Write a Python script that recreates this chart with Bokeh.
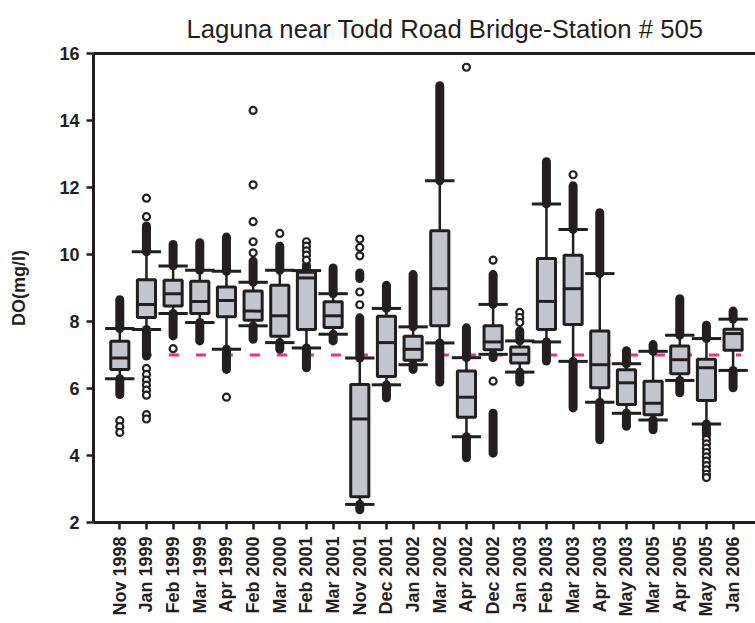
from math import pi
from bokeh.plotting import figure
from bokeh.models import FixedTicker, LinearAxis, Range1d
from bokeh.embed import file_html
from bokeh.resources import INLINE

categories = ["Nov 1998", "Jan 1999", "Feb 1999", "Mar 1999", "Apr 1999", "Feb 2000",
              "Mar 2000", "Feb 2001", "Mar 2001", "Nov 2001", "Dec 2001", "Jan 2002",
              "Mar 2002", "Apr 2002", "Dec 2002", "Jan 2003", "Feb 2003", "Mar 2003",
              "Apr 2003", "May 2003", "Mar 2005", "Apr 2005", "May 2005", "Jan 2006"]

lower_whisker = [6.29, 7.76, 8.24, 7.97, 7.17, 7.87, 7.37, 7.21, 7.62, 2.54, 6.11, 6.71,
                 7.36, 4.56, 7.02, 6.49, 7.39, 6.81, 5.59, 5.26, 5.06, 6.24, 4.94, 6.54]
q1 = [6.57, 8.12, 8.46, 8.24, 8.14, 8.04, 7.56, 7.76, 7.82, 2.77, 6.36, 6.84,
      7.87, 5.14, 7.16, 6.76, 7.76, 7.91, 6.02, 5.52, 5.22, 6.44, 5.64, 7.14]
median = [6.91, 8.51, 8.83, 8.60, 8.63, 8.31, 8.17, 9.30, 8.17, 5.09, 7.37, 7.17,
          8.98, 5.74, 7.39, 7.02, 8.60, 8.98, 6.71, 6.17, 5.56, 6.86, 6.62, 7.64]
q3 = [7.41, 9.25, 9.23, 9.20, 9.03, 8.91, 9.08, 9.47, 8.59, 6.12, 8.16, 7.56,
      10.71, 6.52, 7.87, 7.24, 9.88, 9.98, 7.72, 6.56, 6.22, 7.27, 6.87, 7.77]
upper_whisker = [7.79, 10.08, 9.66, 9.53, 9.50, 9.17, 9.53, 9.52, 8.83, 6.91, 8.39, 7.84,
                 12.20, 6.92, 8.51, 7.42, 11.51, 10.75, 9.43, 6.74, 7.11, 7.59, 7.49, 8.07]

# dense runs of overlapping outliers (category index, from, to)
dense_cat = [0, 0, 1, 1, 2, 2, 3, 3, 4, 4, 5, 5, 6, 6, 7, 7, 8, 8, 9, 9, 9,
             10, 10, 11, 11, 12, 12, 13, 13, 14, 14, 14, 15, 15, 16, 16, 17, 17,
             18, 18, 19, 19, 20, 20, 21, 21, 22, 22, 23, 23]
dense_from = [7.79, 5.82, 10.08, 6.97, 9.66, 7.57, 9.53, 7.42, 9.50, 6.57, 9.17, 7.47,
              9.53, 7.17, 9.50, 6.62, 8.83, 7.42, 6.91, 9.28, 2.38, 8.39, 5.72, 7.84, 6.57,
              12.20, 6.19, 6.92, 3.93, 8.51, 6.92, 4.07, 7.42, 6.19, 11.51, 6.82, 10.75, 5.42,
              9.43, 4.47, 6.74, 4.87, 7.11, 4.77, 7.59, 5.87, 7.49, 4.60, 8.07, 6.02]
dense_to = [8.65, 6.29, 10.85, 7.76, 10.30, 8.24, 10.35, 7.97, 10.52, 7.17, 9.80, 7.87,
            10.25, 7.37, 9.68, 7.21, 9.60, 7.62, 8.11, 9.45, 2.54, 9.08, 6.11, 9.40, 6.71,
            15.04, 7.36, 7.81, 4.56, 9.40, 7.02, 5.26, 7.72, 6.49, 12.77, 7.39, 12.05, 6.81,
            11.25, 5.59, 7.13, 5.26, 7.31, 5.06, 8.68, 6.24, 7.89, 4.94, 8.31, 6.54]

# separate outlier circles
outlier_cat = [0, 0, 0, 1, 1, 1, 1, 1, 1, 1, 1, 1, 1, 2, 4, 5, 5, 5, 5, 5, 6,
               7, 7, 7, 7, 7, 9, 9, 9, 9, 9, 13, 14, 14, 15, 15, 15, 17,
               22, 22, 22, 22, 22, 22, 22, 22, 22, 22]
outlier_val = [5.04, 4.86, 4.69, 11.68, 11.13, 6.60, 6.42, 6.25, 6.10, 5.95, 5.80, 5.22, 5.09,
               7.19, 5.74, 14.30, 12.08, 10.98, 10.38, 10.05, 10.63,
               10.38, 10.25, 10.11, 9.98, 9.83, 10.46, 10.21, 9.96, 8.88, 8.50,
               15.59, 9.83, 6.22, 8.27, 8.12, 7.97, 12.38,
               4.48, 4.35, 4.22, 4.09, 3.96, 3.83, 3.70, 3.57, 3.44, 3.34]

standard_level = [7.0, 7.0]
standard_span = [0.83, 23.3]

title_text = "Laguna near Todd Road Bridge-Station # 505"
y_label = "DO(mg/l)"
y_ticks = [2, 4, 6, 8, 10, 12, 14, 16]

DARK = "#231f20"
BOXFILL = "#c3c6ce"
PINK = "#ec2f8e"
FONT = "Liberation Sans"

xs = list(range(len(categories)))
half_box = 0.34
half_cap = 0.55

p = figure(width=755, height=621, output_backend="svg", toolbar_location=None,
           x_range=Range1d(-0.986, 23.84), y_range=Range1d(2, 16),
           min_border_left=93, min_border_right=0, min_border_top=53, min_border_bottom=99)
p.outline_line_color = None
p.grid.visible = False
p.background_fill_color = "white"

# reference line
p.line(standard_span, standard_level, line_color=PINK, line_width=3, line_dash="10 17")

# whiskers
p.segment(x0=xs, y0=lower_whisker, x1=xs, y1=q1, line_color=DARK, line_width=2.5)
p.segment(x0=xs, y0=q3, x1=xs, y1=upper_whisker, line_color=DARK, line_width=2.5)

# dense outliers
p.segment(x0=dense_cat, y0=dense_from, x1=dense_cat, y1=dense_to, line_color=DARK,
          line_width=9, line_cap="round")

# boxes
p.vbar(x=xs, width=2 * half_box, bottom=q1, top=q3, fill_color=BOXFILL,
       line_color=DARK, line_width=3)
p.segment(x0=[x - half_box for x in xs], y0=median, x1=[x + half_box for x in xs], y1=median,
          line_color=DARK, line_width=3)

# caps
p.segment(x0=[x - half_cap for x in xs], y0=lower_whisker, x1=[x + half_cap for x in xs],
          y1=lower_whisker, line_color=DARK, line_width=3)
p.segment(x0=[x - half_cap for x in xs], y0=upper_whisker, x1=[x + half_cap for x in xs],
          y1=upper_whisker, line_color=DARK, line_width=3)

# outliers
p.scatter(outlier_cat, outlier_val, size=7, marker="circle", fill_color="white",
          line_color=DARK, line_width=2.2)

# axes
p.xaxis.ticker = FixedTicker(ticks=xs)
p.xaxis.major_label_overrides = {i: c for i, c in enumerate(categories)}
p.xaxis.major_label_orientation = pi / 2
p.yaxis.ticker = FixedTicker(ticks=y_ticks)
for ax in (p.xaxis, p.yaxis):
    ax.axis_line_color = DARK
    ax.axis_line_width = 3
    ax.major_tick_line_color = DARK
    ax.major_tick_line_width = 2.5
    ax.major_tick_in = 0
    ax.major_tick_out = 7
    ax.minor_tick_line_color = None
    ax.major_label_text_font = FONT
    ax.major_label_text_font_style = "bold"
    ax.major_label_text_font_size = "18px"
    ax.major_label_text_color = DARK
    ax.major_label_standoff = 7
p.yaxis.axis_label = y_label
p.yaxis.axis_label_text_font = FONT
p.yaxis.axis_label_text_font_style = "bold"
p.yaxis.axis_label_text_font_size = "18px"
p.yaxis.axis_label_text_color = DARK
p.yaxis.axis_label_standoff = 27

top = LinearAxis(ticker=FixedTicker(ticks=[]), axis_line_color=DARK, axis_line_width=3,
                 major_tick_line_color=None, minor_tick_line_color=None,
                 major_tick_out=0, major_tick_in=0, major_label_standoff=0,
                 major_label_text_font_size="0px")
p.add_layout(top, "above")

p.title.text = title_text
p.title.text_font = FONT
p.title.text_font_style = "normal"
p.title.text_font_size = "25.7px"
p.title.text_color = DARK
p.title.align = "left"
p.title.offset = 93
p.title.standoff = 22

open("out.html", "w").write(file_html(p, INLINE))
